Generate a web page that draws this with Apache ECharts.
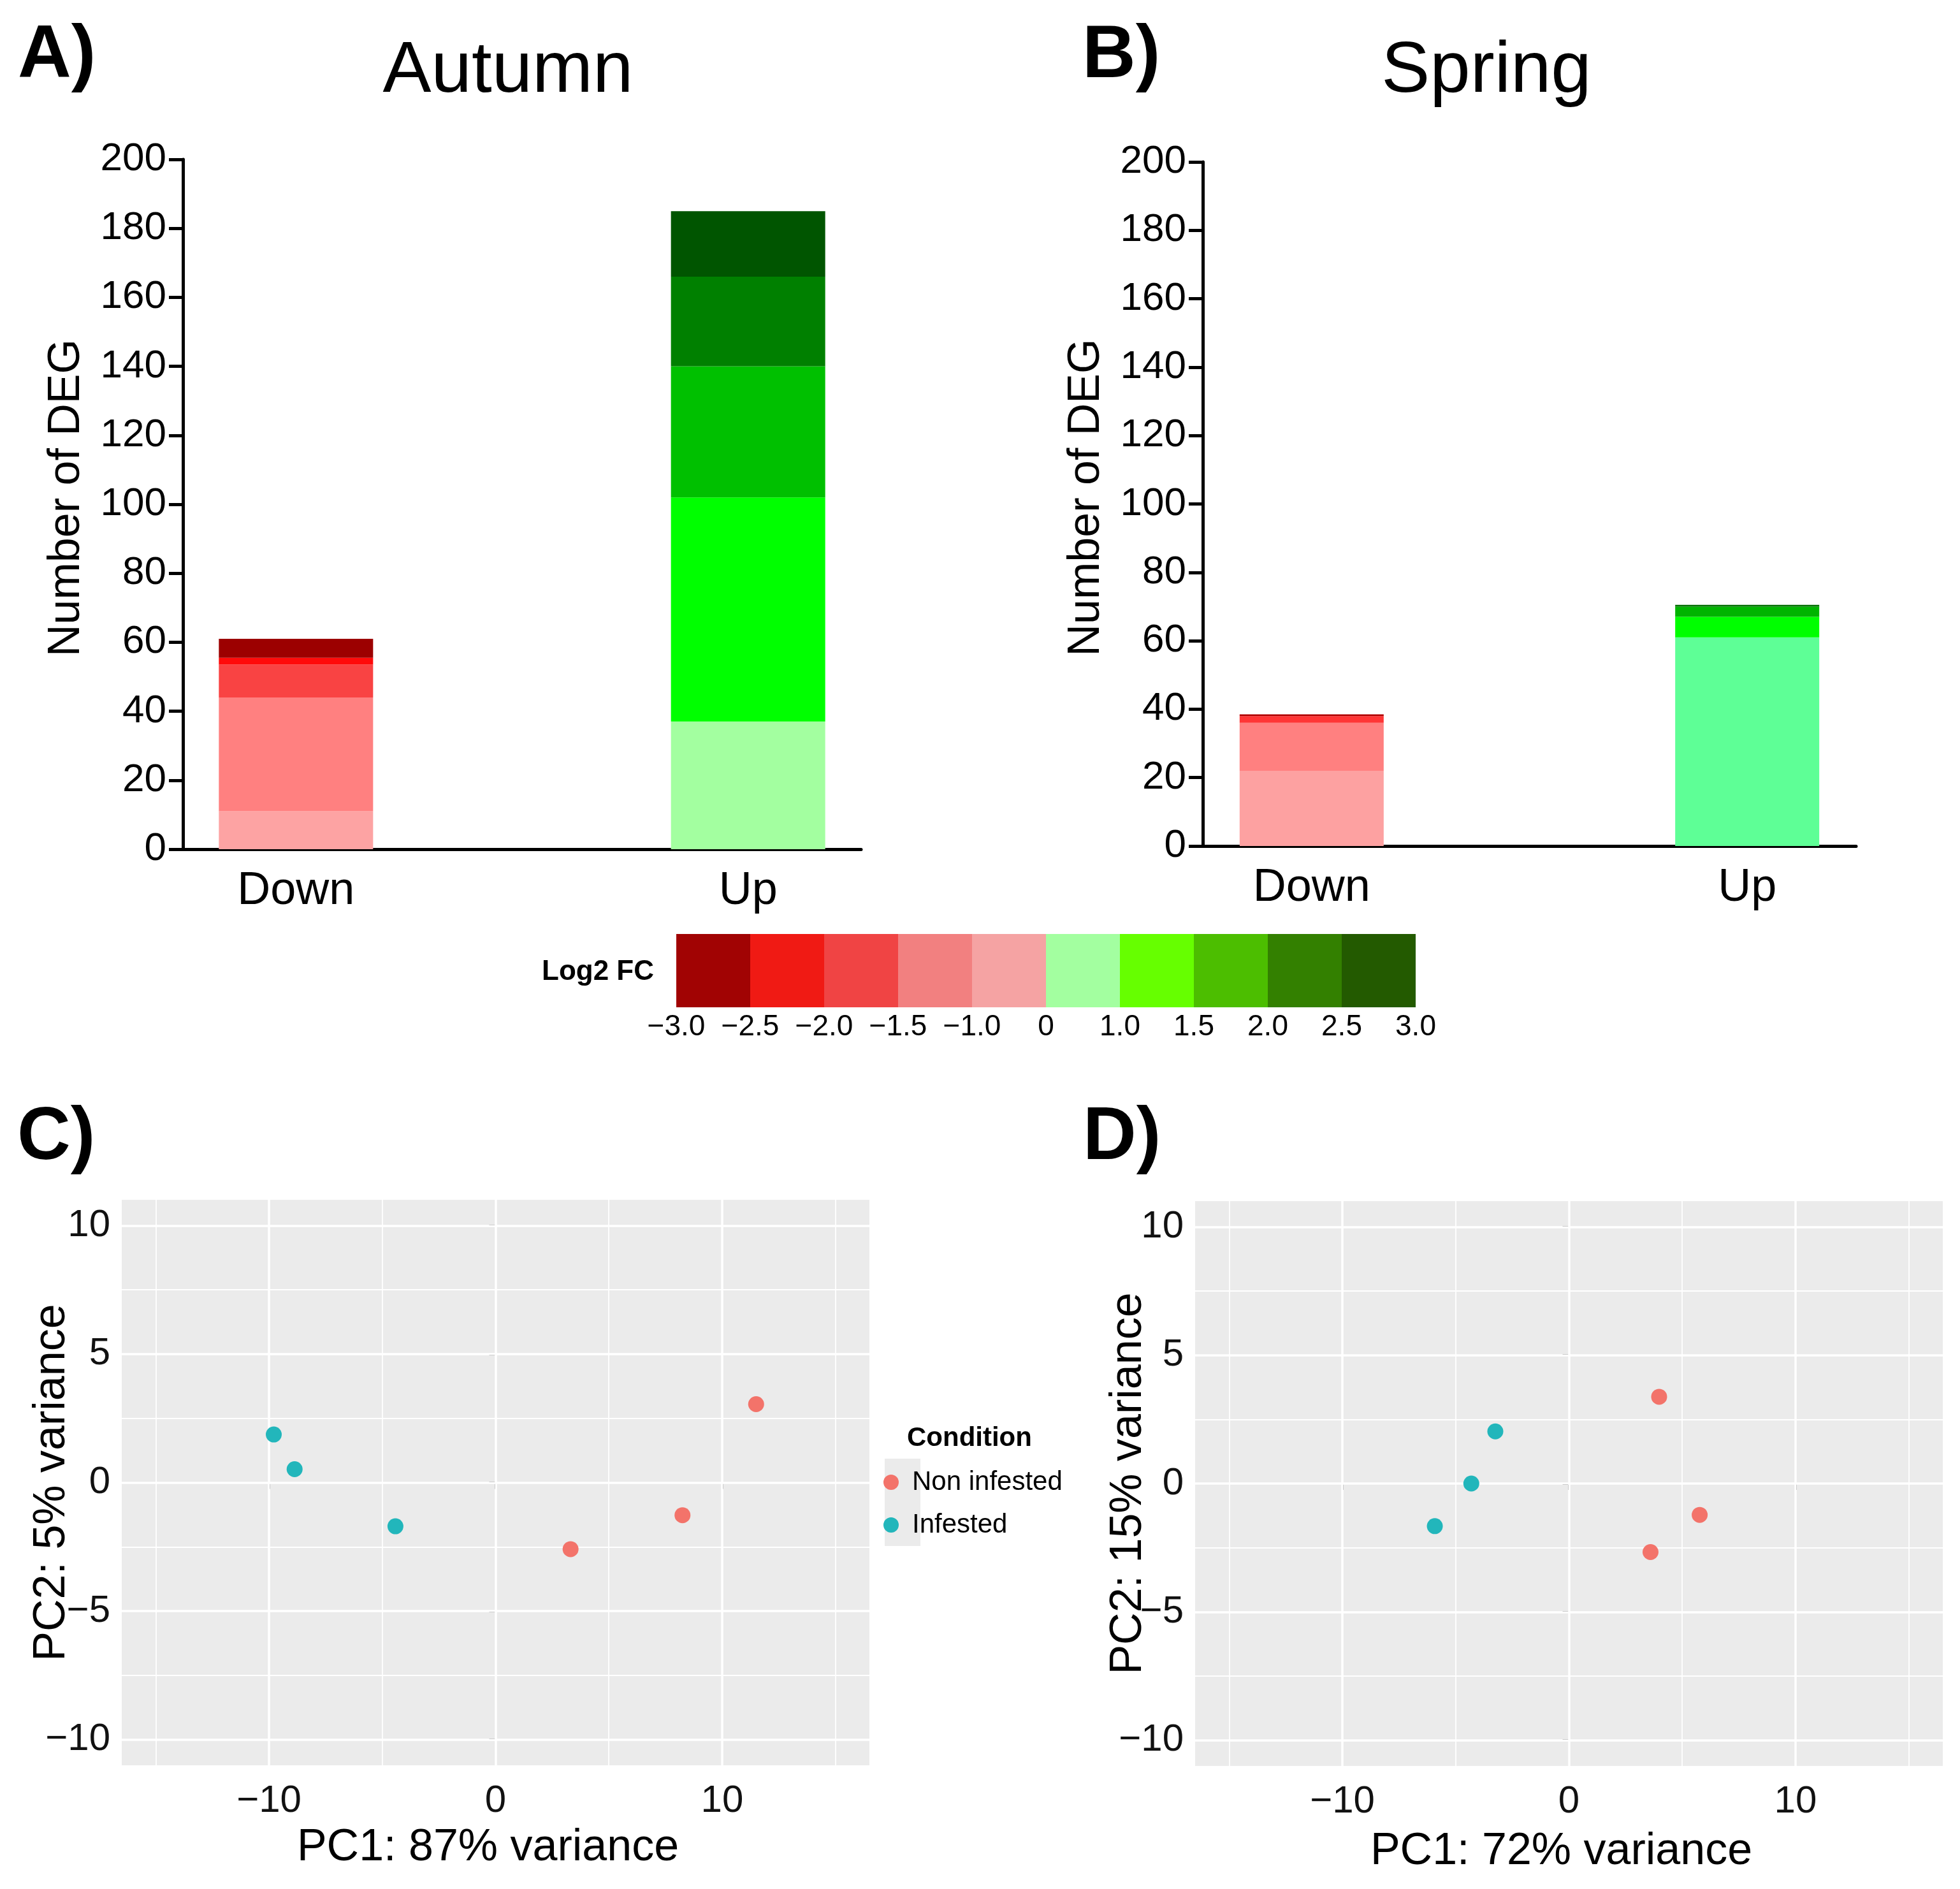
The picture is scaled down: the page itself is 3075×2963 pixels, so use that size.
<!DOCTYPE html>
<html>
<head>
<meta charset="utf-8">
<title>DEG and PCA</title>
<script src="https://cdn.jsdelivr.net/npm/echarts@6.0.0/dist/echarts.min.js"></script>
<style>
  html, body { margin: 0; padding: 0; background: #fff; }
  #main { width: 3075px; height: 2963px; }
</style>
</head>
<body>
<div id="main"></div>
<script>
var directions = ['Down', 'Up'];

// stacked layer heights, bottom to top (Number of DEG)
var autumnDown = [11, 33, 9.5, 2, 5.5];
var autumnUp = [37, 65, 38, 26, 19];
var springDown = [22, 14, 2, 0.5];
var springUp = [61, 6, 3, 0.5];

var autumnDownColors = ['#fda3a3', '#ff8080', '#f94343', '#ff0a0a', '#9c0000'];
var autumnUpColors = ['#a3ffa0', '#00ff00', '#00c000', '#008000', '#005500'];
var springDownColors = ['#fda1a1', '#ff8080', '#ff3535', '#b00000'];
var springUpColors = ['#5eff96', '#00ff00', '#00b400', '#006e00'];

// colour key
var fcLabels = ['\u22123.0', '\u22122.5', '\u22122.0', '\u22121.5', '\u22121.0', '0', '1.0', '1.5', '2.0', '2.5', '3.0'];
var fcColors = ['#a10303', '#f01a14', '#f04444', '#f28080', '#f5a3a3', '#a3ffa0', '#66ff00', '#4cbe00', '#338000', '#235a00'];

// PCA
var conditions = ['Non infested', 'Infested'];
var conditionColors = ['#f3736a', '#22b6bb'];
var autumnNon = [[11.50, 3.05], [8.25, -1.27], [3.31, -2.59]];
var autumnInf = [[-9.79, 1.87], [-8.87, 0.52], [-4.42, -1.70]];
var springNon = [[3.98, 3.38], [5.77, -1.22], [3.60, -2.67]];
var springInf = [[-3.25, 2.03], [-4.31, 0.00], [-5.92, -1.66]];

var pcaTicksX = [-10, 0, 10];
var pcaTicksY = [-10, -5, 0, 5, 10];
var pcaMinorX = [-15, -5, 5, 15];
var pcaMinorY = [-7.5, -2.5, 2.5, 7.5];

var FONT = 'Liberation Sans';

var myChart = echarts.init(document.getElementById('main'));

function minus(v) {
    return v < 0 ? '\u2212' + Math.abs(v) : String(v);
}

function barXAxis(gi) {
    return {
        type: 'category',
        gridIndex: gi,
        data: [directions[0], '', directions[1]],
        axisLine: { lineStyle: { color: '#000', width: 5 } },
        axisTick: { alignWithLabel: true, length: 18, lineStyle: { color: '#000', width: 5 } },
        axisLabel: { fontSize: 72, color: '#000', fontFamily: FONT, margin: 30 },
        splitLine: { show: false }
    };
}

function barYAxis(gi) {
    return {
        type: 'value',
        gridIndex: gi,
        min: 0, max: 200, interval: 20,
        name: 'Number of DEG',
        nameLocation: 'middle',
        nameGap: 147,
        nameMoveOverlap: false,
        nameTextStyle: { fontSize: 70, color: '#000', fontFamily: FONT, padding: [0, 0, 0, 20] },
        axisLine: { show: true, lineStyle: { color: '#000', width: 5 } },
        axisTick: { show: true, length: 22, lineStyle: { color: '#000', width: 5 } },
        axisLabel: { fontSize: 62, color: '#000', fontFamily: FONT, margin: 26 },
        splitLine: { show: false }
    };
}

function pcaXAxis(gi, name, gap) {
    return {
        type: 'value',
        gridIndex: gi,
        min: -16.5, max: 16.5,
        name: name,
        nameLocation: 'middle',
        nameGap: gap,
        nameMoveOverlap: false,
        nameTextStyle: { fontSize: 70, color: '#000', fontFamily: FONT, padding: [0, 24, 0, 0] },
        axisLine: { show: false },
        axisTick: { show: true, customValues: pcaTicksX, length: 10, lineStyle: { color: '#333', width: 3 } },
        axisLabel: { customValues: pcaTicksX, fontSize: 60, color: '#111', fontFamily: FONT, margin: 26, formatter: minus },
        splitLine: { show: false }
    };
}

function pcaYAxis(gi, name, gap) {
    return {
        type: 'value',
        gridIndex: gi,
        min: -11, max: 11,
        name: name,
        nameLocation: 'middle',
        nameGap: gap,
        nameMoveOverlap: false,
        nameTextStyle: { fontSize: 70, color: '#000', fontFamily: FONT },
        axisLine: { show: false },
        axisTick: { show: true, customValues: pcaTicksY, length: 10, lineStyle: { color: '#333', width: 3 } },
        axisLabel: { customValues: pcaTicksY, fontSize: 60, color: '#111', fontFamily: FONT, margin: 18, formatter: minus },
        splitLine: { show: false }
    };
}

function stackSeries(gi, stack, down, up, downColors, upColors, barWidth) {
    var out = [];
    var n = Math.max(down.length, up.length);
    for (var i = 0; i < n; i++) {
        out.push({
            type: 'bar',
            name: stack + i,
            stack: stack,
            xAxisIndex: gi, yAxisIndex: gi,
            barWidth: barWidth,
            data: [
                i < down.length ? { value: down[i], itemStyle: { color: downColors[i] } } : '-',
                '-',
                i < up.length ? { value: up[i], itemStyle: { color: upColors[i] } } : '-'
            ]
        });
    }
    return out;
}

function gridLines(gi) {
    var lines = [];
    pcaTicksX.forEach(function (v) { lines.push({ xAxis: v, lineStyle: { width: 3.5 } }); });
    pcaMinorX.forEach(function (v) { lines.push({ xAxis: v, lineStyle: { width: 1.8 } }); });
    pcaTicksY.forEach(function (v) { lines.push({ yAxis: v, lineStyle: { width: 3.5 } }); });
    pcaMinorY.forEach(function (v) { lines.push({ yAxis: v, lineStyle: { width: 1.8 } }); });
    return {
        type: 'scatter',
        name: 'grid' + gi,
        xAxisIndex: gi, yAxisIndex: gi,
        data: [],
        markLine: {
            silent: true,
            symbol: ['none', 'none'],
            label: { show: false },
            z: 1,
            lineStyle: { color: '#ffffff', type: 'solid' },
            data: lines
        }
    };
}

function pcaSeries(gi, non, inf) {
    return [
        { type: 'scatter', name: conditions[0], xAxisIndex: gi, yAxisIndex: gi, z: 10,
          symbolSize: 25, itemStyle: { color: conditionColors[0], opacity: 1 }, data: non },
        { type: 'scatter', name: conditions[1], xAxisIndex: gi, yAxisIndex: gi, z: 10,
          symbolSize: 25, itemStyle: { color: conditionColors[1], opacity: 1 }, data: inf }
    ];
}

function txt(text, left, top, size, bold, align) {
    return {
        text: text, left: left, top: top, textAlign: align || 'left', padding: 0,
        textStyle: { fontSize: size, fontWeight: bold ? 'bold' : 'normal', color: '#000', fontFamily: FONT }
    };
}

var series = []
    .concat(stackSeries(0, 'A', autumnDown, autumnUp, autumnDownColors, autumnUpColors, 242))
    .concat(stackSeries(1, 'B', springDown, springUp, springDownColors, springUpColors, 226))
    .concat([{
        type: 'custom',
        name: 'fc',
        xAxisIndex: 2, yAxisIndex: 2,
        data: fcColors.map(function (c, i) { return [i]; }),
        encode: { x: 0 },
        renderItem: function (params, api) {
            var i = api.value(0);
            var p0 = api.coord([i, 1]);
            var p1 = api.coord([i + 1, 0]);
            return {
                type: 'rect',
                shape: { x: p0[0], y: p0[1], width: p1[0] - p0[0], height: p1[1] - p0[1] },
                style: { fill: fcColors[i] }
            };
        }
    }])
    .concat([gridLines(3)]).concat(pcaSeries(3, autumnNon, autumnInf))
    .concat([gridLines(4)]).concat(pcaSeries(4, springNon, springInf));

var option = {
    animation: false,
    backgroundColor: '#ffffff',
    textStyle: { fontFamily: FONT },
    title: [
        txt('A)', 28, 31, 116, true),
        txt('Autumn', 797, 56, 114, false, 'center'),
        txt('B)', 1698, 31, 116, true),
        txt('Spring', 2332, 56, 114, false, 'center'),
        txt('Log2 FC', 850, 1503, 44, true),
        txt('C)', 27, 1728, 116, true),
        txt('D)', 1699, 1728, 116, true),
        txt('Condition', 1423, 2235, 42, true)
    ],
    legend: {
        data: conditions,
        orient: 'vertical',
        left: 1386, top: 2304,
        itemWidth: 56, itemHeight: 24, itemGap: 25,
        icon: 'circle',
        padding: 0,
        textStyle: { fontSize: 42, color: '#000', fontFamily: FONT }
    },
    graphic: [{
        type: 'rect', left: 1388, top: 2288, z: -1,
        shape: { width: 56, height: 137 },
        style: { fill: '#ebebeb' }
    }],
    grid: [
        { left: 287, top: 250, width: 1064, height: 1082 },
        { left: 1887, top: 254, width: 1025, height: 1073 },
        { left: 1061, top: 1465, width: 1160, height: 115 },
        { left: 191, top: 1882, width: 1173, height: 887, show: true, backgroundColor: '#ebebeb', borderWidth: 0 },
        { left: 1875, top: 1884, width: 1173, height: 886, show: true, backgroundColor: '#ebebeb', borderWidth: 0 }
    ],
    xAxis: [
        barXAxis(0),
        barXAxis(1),
        {
            type: 'value', gridIndex: 2, min: 0, max: 10, interval: 1,
            axisLine: { show: false }, axisTick: { show: false }, splitLine: { show: false },
            axisLabel: { fontSize: 46, color: '#000', fontFamily: FONT, margin: 8,
                showMinLabel: true, showMaxLabel: true,
                formatter: function (v) { return fcLabels[v]; } }
        },
        pcaXAxis(3, 'PC1: 87% variance', 95),
        pcaXAxis(4, 'PC1: 72% variance', 100)
    ],
    yAxis: [
        barYAxis(0),
        barYAxis(1),
        { type: 'value', gridIndex: 2, min: 0, max: 1, show: false },
        pcaYAxis(3, 'PC2: 5% variance', 74),
        pcaYAxis(4, 'PC2: 15% variance', 69)
    ],
    series: series
};

myChart.setOption(option);
</script>
</body>
</html>
